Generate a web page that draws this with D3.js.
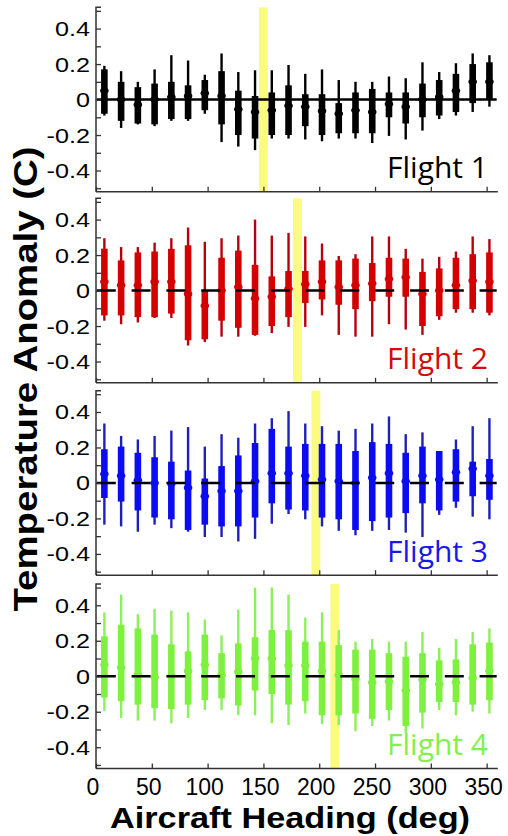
<!DOCTYPE html>
<html><head><meta charset="utf-8">
<script src="https://cdn.jsdelivr.net/npm/d3@7/dist/d3.min.js"></script>
<style>body{margin:0;background:#fff}svg{display:block}</style>
</head><body>
<svg id="c" width="508" height="836"></svg>
<script>
// Heading bin centres (deg)
const headings = [7.5,22.5,37.5,52.5,67.5,82.5,97.5,112.5,127.5,142.5,157.5,172.5,187.5,202.5,217.5,232.5,247.5,262.5,277.5,292.5,307.5,322.5,337.5,352.5];
const flights = ["Flight 1","Flight 2","Flight 3","Flight 4"];
const highlightHeading = [150, 180.5, 197, 214];
const xTicks = [0,50,100,150,200,250,300,350];
const yTicks = [-0.5,-0.4,-0.3,-0.2,-0.1,0,0.1,0.2,0.3,0.4,0.5];
const yTickLabels = [-0.4,-0.2,0,0.2,0.4];

// per flight: lower whisker, q1, median, q3, upper whisker
const f1Lo  = [-0.09,-0.16,-0.14,-0.15,-0.12,-0.12,-0.08,-0.24,-0.265,-0.285,-0.22,-0.22,-0.225,-0.235,-0.22,-0.22,-0.245,-0.205,-0.225,-0.175,-0.11,-0.09,-0.07,-0.04];
const f1Q1  = [-0.08,-0.12,-0.135,-0.14,-0.11,-0.11,-0.06,-0.14,-0.2,-0.22,-0.2,-0.2,-0.15,-0.2,-0.19,-0.19,-0.19,-0.1,-0.135,-0.1,-0.09,-0.07,-0.02,0];
const f1Med = [0.05,0,-0.03,0,0.015,0.02,0.035,0.02,-0.055,-0.07,-0.06,-0.035,-0.04,-0.065,-0.08,-0.06,-0.07,-0.025,-0.04,0,0.015,0.05,0.1,0.1];
const f1Q3  = [0.17,0.1,0.07,0.09,0.1,0.08,0.11,0.16,0.05,0.02,0.04,0.08,0.03,0.03,-0.02,0.04,0.06,0.04,0.04,0.09,0.11,0.145,0.2,0.21];
const f1Hi  = [0.19,0.16,0.1,0.17,0.25,0.22,0.14,0.26,0.155,0.165,0.165,0.195,0.145,0.17,0.11,0.1,0.1,0.13,0.12,0.21,0.155,0.205,0.26,0.25];

const f2Lo  = [-0.17,-0.19,-0.18,-0.155,-0.155,-0.31,-0.29,-0.26,-0.26,-0.255,-0.24,-0.205,-0.205,-0.14,-0.25,-0.26,-0.26,-0.19,-0.22,-0.25,-0.165,-0.125,-0.125,-0.14];
const f2Q1  = [-0.14,-0.14,-0.15,-0.15,-0.13,-0.28,-0.275,-0.17,-0.21,-0.25,-0.2,-0.15,-0.07,-0.05,-0.08,-0.105,-0.06,-0.035,-0.035,-0.2,-0.145,-0.105,-0.105,-0.125];
const f2Med = [0.05,0.03,0.03,0.05,0.05,-0.02,-0.085,0,0.02,-0.045,-0.035,0.01,0.035,0.05,0.02,0.03,0.04,0.065,0.075,-0.02,0,0.03,0.055,0.05];
const f2Q3  = [0.236,0.17,0.215,0.22,0.235,0.255,0,0.185,0.225,0.145,0.08,0.11,0.11,0.17,0.17,0.18,0.155,0.185,0.18,0.105,0.125,0.185,0.205,0.215];
const f2Hi  = [0.295,0.245,0.245,0.27,0.295,0.355,0.275,0.295,0.31,0.4,0.31,0.325,0.305,0.265,0.195,0.205,0.305,0.305,0.235,0.18,0.19,0.22,0.305,0.29];

const f3Lo  = [-0.235,-0.245,-0.275,-0.235,-0.255,-0.275,-0.305,-0.305,-0.33,-0.315,-0.23,-0.175,-0.205,-0.245,-0.27,-0.295,-0.27,-0.265,-0.28,-0.305,-0.18,-0.14,-0.19,-0.205];
const f3Q1  = [-0.085,-0.105,-0.155,-0.195,-0.205,-0.265,-0.235,-0.245,-0.245,-0.195,-0.115,-0.15,-0.155,-0.195,-0.205,-0.265,-0.215,-0.195,-0.17,-0.115,-0.155,-0.105,-0.075,-0.095];
const f3Med = [0.05,0.04,0.015,0,-0.005,-0.027,-0.075,-0.045,-0.045,0.01,0.055,0.055,0.04,0.02,0.01,0,0.03,0.055,0.01,0.04,0.02,0.06,0.08,0.04];
const f3Q3  = [0.19,0.205,0.17,0.145,0.12,0.07,0.025,0.095,0.155,0.225,0.305,0.205,0.22,0.22,0.22,0.18,0.23,0.22,0.17,0.205,0.18,0.19,0.12,0.135];
const f3Hi  = [0.335,0.265,0.245,0.265,0.295,0.315,0.205,0.275,0.255,0.335,0.365,0.405,0.335,0.32,0.295,0.305,0.335,0.375,0.275,0.285,0.18,0.245,0.32,0.365];

const f4Lo  = [-0.195,-0.235,-0.25,-0.25,-0.265,-0.235,-0.19,-0.19,-0.22,-0.22,-0.265,-0.275,-0.21,-0.27,-0.275,-0.31,-0.28,-0.25,-0.32,-0.295,-0.19,-0.22,-0.2,-0.21];
const f4Q1  = [-0.12,-0.14,-0.16,-0.18,-0.185,-0.16,-0.135,-0.125,-0.165,-0.08,-0.1,-0.16,-0.14,-0.22,-0.22,-0.21,-0.24,-0.19,-0.28,-0.205,-0.145,-0.145,-0.16,-0.135];
const f4Med = [0.065,0.05,0.01,-0.005,0,0.03,0.065,0.005,0.025,0.1,0.1,0.06,0.06,0.03,0.005,-0.015,-0.035,-0.03,-0.08,-0.02,-0.045,-0.035,-0.01,0.03];
const f4Q3  = [0.225,0.29,0.27,0.235,0.18,0.14,0.235,0.13,0.185,0.22,0.26,0.26,0.195,0.195,0.175,0.15,0.15,0.13,0.11,0.13,0.09,0.095,0.18,0.19];
const f4Hi  = [0.36,0.46,0.35,0.38,0.37,0.36,0.32,0.23,0.375,0.5,0.5,0.46,0.33,0.36,0.26,0.195,0.21,0.195,0.195,0.25,0.16,0.21,0.25,0.27];

const boxColors = ["#000000","#d40000","#0c0cf2","#7ef03e"];
const whiskerColors = ["#000000","#b50010","#2020b8","#8cf05a"];
const labelColors = ["#000000","#d40a0a","#1818ea","#84f04a"];

const series = [
  [f1Lo,f1Q1,f1Med,f1Q3,f1Hi],
  [f2Lo,f2Q1,f2Med,f2Q3,f2Hi],
  [f3Lo,f3Q1,f3Med,f3Q3,f3Hi],
  [f4Lo,f4Q1,f4Med,f4Q3,f4Hi]
];

const svg = d3.select("#c");
const X0 = 96, X1 = 497.8;
const panelTops = [7.3, 198.3, 390.7, 584];
const panelH = 184.5;
const x = d3.scaleLinear().domain([0,360]).range([X0,X1]);
const axisColor = "#333";
const fmtY = d => d===0 ? "0" : d3.format(".1f")(d).replace("\u2212","-");

series.forEach((s, i) => {
  const top = panelTops[i];
  const y = d3.scaleLinear().domain([-0.52,0.52]).range([top+panelH, top]);
  const g = svg.append("g");

  // highlight band
  g.append("rect")
    .attr("x", x(highlightHeading[i]-4)).attr("width", x(highlightHeading[i]+4)-x(highlightHeading[i]-4))
    .attr("y", top).attr("height", panelH)
    .attr("fill", "#fbfb80");

  const rows = headings.map((h,k)=>({h, lo:s[0][k], q1:s[1][k], med:s[2][k], q3:s[3][k], hi:s[4][k]}));
  const b = g.selectAll("g.b").data(rows).join("g");
  b.append("line")
    .attr("x1", d=>x(d.h)).attr("x2", d=>x(d.h))
    .attr("y1", d=>y(d.lo)).attr("y2", d=>y(d.hi))
    .attr("stroke", whiskerColors[i]).attr("stroke-width", 2.4);
  b.append("rect")
    .attr("x", d=>x(d.h)-3.3).attr("width", 6.6)
    .attr("y", d=>y(d.q3)).attr("height", d=>Math.max(0.5, y(d.q1)-y(d.q3)))
    .attr("fill", boxColors[i]);
  b.append("ellipse")
    .attr("cx", d=>x(d.h)).attr("cy", d=>y(d.med))
    .attr("rx", 4.3).attr("ry", 3)
    .attr("fill", boxColors[i]);

  // zero line
  g.append("line")
    .attr("x1", x(0)+0.8).attr("x2", x(359))
    .attr("y1", y(0)).attr("y2", y(0))
    .attr("stroke", "#000").attr("stroke-width", 2.5)
    .attr("stroke-dasharray", i===0 ? null : "19,15.8");

  // y axis (ticks inward)
  const ya = g.append("g").attr("transform", `translate(${X0},0)`)
    .call(d3.axisRight(y).tickValues(yTicks).tickSize(5).tickFormat(""));
  ya.select(".domain").attr("d", `M5,${top}H0V${top+panelH}`).attr("stroke", axisColor).attr("stroke-width", 1.5);
  ya.selectAll(".tick line").attr("stroke", axisColor).attr("stroke-width", 1.3);

  // y tick labels
  g.selectAll("text.yl").data(yTickLabels).join("text")
    .attr("text-anchor","end")
    .attr("transform", d=>`translate(${X0-6},${y(d)+7.5}) scale(1.2,1)`)
    .attr("font-family","Liberation Sans, Arial, sans-serif")
    .attr("font-size", 21)
    .attr("fill","#000")
    .text(fmtY);

  // x axis (ticks inward)
  const xa = g.append("g").attr("transform", `translate(0,${top+panelH})`)
    .call(d3.axisTop(x).tickValues(xTicks).tickSize(5).tickFormat(""));
  xa.select(".domain").attr("d", `M${X0},0H${X1}`).attr("stroke", axisColor).attr("stroke-width", 1.5);
  xa.selectAll(".tick line").attr("stroke", axisColor).attr("stroke-width", 1.3);

  // flight label
  g.append("text")
    .attr("x", 488).attr("y", top+171)
    .attr("text-anchor","end")
    .attr("font-family","Open Sans, sans-serif")
    .attr("font-size", 30)
    .attr("fill", labelColors[i])
    .text(flights[i]);
});

// x tick labels under last panel
const lastBottom = panelTops[3]+panelH;
svg.append("g").selectAll("text").data(xTicks).join("text")
  .attr("x", d=>x(d)-3).attr("y", lastBottom+26.5)
  .attr("text-anchor","middle")
  .attr("font-family","Liberation Sans, Arial, sans-serif")
  .attr("font-size", 23)
  .text(d=>d);

// axis titles
svg.append("text")
  .attr("x", 290).attr("y", 828)
  .attr("text-anchor","middle")
  .attr("font-family","Liberation Sans, Arial, sans-serif")
  .attr("font-weight","bold").attr("font-size", 30)
  .attr("textLength", 360).attr("lengthAdjust","spacingAndGlyphs")
  .text("Aircraft Heading (deg)");

svg.append("text")
  .attr("transform","translate(37,379) rotate(-90)")
  .attr("text-anchor","middle")
  .attr("font-family","Liberation Sans, Arial, sans-serif")
  .attr("font-weight","bold").attr("font-size", 33)
  .attr("textLength", 465).attr("lengthAdjust","spacingAndGlyphs")
  .text("Temperature Anomaly (C)");
</script>
</body></html>
